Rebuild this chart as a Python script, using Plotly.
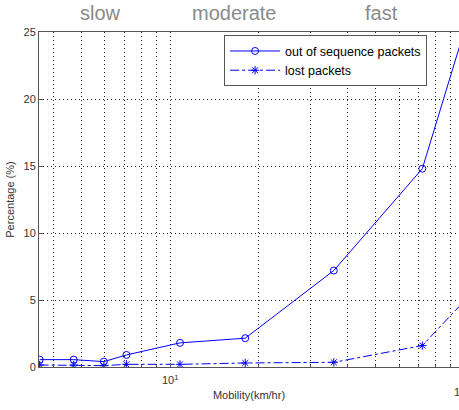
import plotly.graph_objects as go

mobility = [3.6, 4.7, 5.95, 7.1, 10.8, 18, 36, 72, 108]
out_of_sequence = [0.55, 0.55, 0.4, 0.9, 1.8, 2.15, 7.2, 14.8, 27.5]
lost_packets = [0.15, 0.15, 0.1, 0.2, 0.2, 0.3, 0.35, 1.6, 5.7]
y_ticks = [0, 5, 10, 15, 20, 25]
minor_x = [4, 5, 6, 7, 8, 9, 20, 30, 40, 50, 60, 70, 80, 90]
zones = ["slow", "moderate", "fast"]
zone_x = [78, 234, 400]

fig = go.Figure()
fig.add_trace(go.Scatter(
    x=mobility, y=out_of_sequence, mode="lines+markers",
    name="out of sequence packets",
    line=dict(color="#0000ff", width=1),
    marker=dict(symbol="circle-open", size=7, color="#0000ff", line=dict(width=1)),
))
fig.add_trace(go.Scatter(
    x=mobility, y=lost_packets, mode="lines+markers",
    name="lost packets",
    line=dict(color="#0000ff", width=1, dash="dashdot"),
    marker=dict(symbol="asterisk-open", size=7, color="#0000ff", line=dict(width=1, color="#0000ff")),
))

W, H = 459, 410
L, R, T, B = 39, 0, 32, 43

for z, zx in zip(zones, zone_x):
    fig.add_annotation(x=(zx - L) / (W - L - R), y=1, xref="paper", yref="paper",
                       yanchor="bottom", yshift=6, text=z, showarrow=False,
                       font=dict(size=20, color="#8a8a8a", family="Liberation Sans, Arial"))

fig.add_annotation(x=1, y=0, xref="paper", yref="paper", xanchor="left", yanchor="top",
                   xshift=-7, yshift=-15, text="10<sup>2</sup>", showarrow=False,
                   font=dict(size=11, color="#333", family="Liberation Sans, Arial"))

DOT = "1px,3px"
grid = dict(showgrid=True, gridcolor="#222", griddash=DOT, gridwidth=1)
fig.update_layout(
    width=W, height=H,
    margin=dict(l=L, r=R, t=T, b=B),
    paper_bgcolor="white", plot_bgcolor="white",
    font=dict(family="Liberation Sans, Arial", size=11, color="#333"),
    showlegend=True,
    legend=dict(x=0.924, y=0.99, xanchor="right", yanchor="top",
                bordercolor="#555", borderwidth=1, bgcolor="white",
                font=dict(size=12.5, color="#000"), tracegroupgap=0, itemwidth=50),
    xaxis=dict(type="log", range=[0.554, 1.982], tickvals=[10], ticktext=["10<sup>1</sup>"],
               ticks="inside", ticklen=4, tickcolor="#555", ticklabelstandoff=3,
               showline=True, linecolor="#555", mirror=True,
               title=dict(text="Mobility(km/hr)", standoff=6, font=dict(size=11)),
               minor=dict(tickvals=minor_x, showgrid=True, gridcolor="#222", griddash=DOT,
                          ticks="inside", ticklen=2, tickcolor="#555"),
               zeroline=False, **grid),
    yaxis=dict(range=[0, 25], tickvals=y_ticks, ticks="inside", ticklen=4, tickcolor="#555",
               showline=True, linecolor="#555", mirror=True, zeroline=False,
               title=dict(text="Percentage (%)", standoff=6, font=dict(size=11)),
               **grid),
)
fig.write_html("out.html")
